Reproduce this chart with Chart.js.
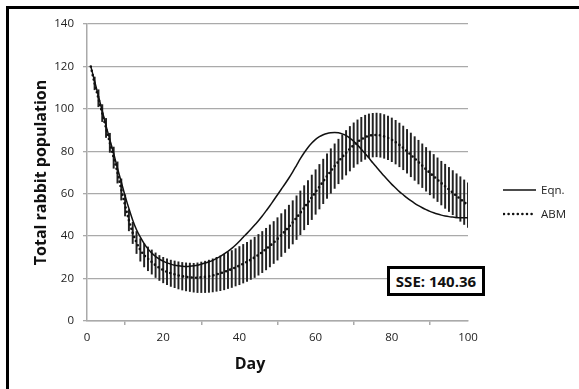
<!DOCTYPE html>
<html>
<head>
<meta charset="utf-8">
<script src="https://cdn.jsdelivr.net/npm/chart.js@4.4.1/dist/chart.umd.min.js"></script>
<style>
  html, body { margin: 0; padding: 0; background: #fff; overflow: hidden; }
  #wrap { position: relative; width: 579px; height: 389px; overflow: hidden; }
  #frame { position: absolute; left: 6px; top: 6px; width: 620px; height: 420px; border: 3px solid #000; box-sizing: border-box; pointer-events: none; }
  #c { position: absolute; left: 0; top: 0; }
  #sse { position: absolute; left: 387px; top: 266px; width: 98px; height: 30px; box-sizing: border-box; border: 3px solid #000; background: #fff;
         font: bold 15px "Open Sans", sans-serif; color: #111; text-align: center; line-height: 24px; }
  .leg { position: absolute; left: 503px; font: 11.5px "Open Sans", sans-serif; color: #222; display: flex; align-items: center; }
  .leg svg { margin-right: 5px; }
</style>
</head>
<body>
<div id="wrap">
  <canvas id="c" width="579" height="389"></canvas>
  <div id="frame"></div>
  <div id="sse">SSE: 140.36</div>
  <div class="leg" style="top:182px"><svg width="33" height="14"><line x1="0" y1="7" x2="33" y2="7" stroke="#111" stroke-width="1.5"/></svg>Eqn.</div>
  <div class="leg" style="top:206px"><svg width="33" height="14"><line x1="1" y1="7" x2="33" y2="7" stroke="#111" stroke-width="2.6" stroke-dasharray="0 4.6" stroke-linecap="round"/></svg>ABM</div>
</div>
<script>
const days = Array.from({length: 100}, (_, i) => i + 1);

const eqn = [
  120, 113, 106, 99, 92, 85.5, 79, 72, 65.5, 59,
  53, 47.5, 43, 39.5, 36.5, 34, 32, 30.4, 29.2, 28.2,
  27.4, 26.8, 26.3, 26, 25.8, 25.7, 25.8, 26, 26.3, 26.8,
  27.3, 27.9, 28.6, 29.5, 30.5, 31.6, 32.8, 34.2, 35.8, 37.6,
  39.5, 41.3, 43.2, 45.2, 47.3, 49.5, 51.9, 54.3, 56.9, 59.5,
  62.1, 64.7, 67.4, 70.3, 73.4, 76.5, 79.3, 81.8, 83.9, 85.6,
  86.9, 87.8, 88.4, 88.7, 88.8, 88.7, 88.2, 87.4, 86.2, 84.7,
  82.9, 81, 78.9, 76.8, 74.6, 72.5, 70.4, 68.3, 66.3, 64.4,
  62.7, 61, 59.5, 58, 56.7, 55.5, 54.4, 53.4, 52.5, 51.7,
  51, 50.4, 49.9, 49.5, 49.2, 49, 48.8, 48.7, 48.7, 48.7
];

const abm = [
  120, 112, 105, 98, 91, 84, 77, 70, 62, 54.5,
  47.5, 41.5, 37, 33.5, 31, 29.3, 27.8, 26.3, 25, 24,
  23.2, 22.5, 22, 21.5, 21.1, 20.8, 20.6, 20.4, 20.4, 20.6,
  20.8, 21.1, 21.5, 22, 22.5, 23.1, 23.8, 24.5, 25.3, 26.1,
  27, 27.9, 28.9, 30, 31.2, 32.5, 33.9, 35.4, 37, 38.7,
  40.5, 42.4, 44.4, 46.5, 48.7, 51, 53.4, 55.8, 58.3, 60.8,
  63.3, 65.8, 68.3, 70.7, 73, 75.2, 77.3, 79.3, 81.2, 82.9,
  84.4, 85.6, 86.6, 87.3, 87.6, 87.7, 87.5, 87, 86.3, 85.4,
  84.3, 83, 81.6, 80, 78.3, 76.6, 74.9, 73.2, 71.5, 69.8,
  68.2, 66.6, 65, 63.5, 62, 60.5, 59, 57.5, 56, 54.6
];

const abmSd = [
  0, 3, 4, 4, 4.5, 4.5, 5, 5, 5, 5,
  5, 5, 5.2, 5.3, 5.5, 5.6, 5.7, 5.8, 5.9, 6,
  6.1, 6.2, 6.3, 6.4, 6.5, 6.6, 6.7, 6.8, 7, 7.2,
  7.4, 7.6, 7.8, 8, 8.2, 8.4, 8.5, 8.7, 8.8, 9,
  9.1, 9.2, 9.3, 9.5, 9.6, 9.7, 9.8, 9.9, 9.9, 10,
  10.1, 10.1, 10.2, 10.2, 10.3, 10.3, 10.4, 10.4, 10.5, 10.5,
  10.5, 10.5, 10.5, 10.5, 10.5, 10.5, 10.5, 10.5, 10.5, 10.5,
  10.4, 10.4, 10.4, 10.3, 10.3, 10.3, 10.3, 10.3, 10.3, 10.3,
  10.3, 10.3, 10.3, 10.3, 10.3, 10.3, 10.3, 10.3, 10.3, 10.3,
  10.3, 10.3, 10.3, 10.4, 10.4, 10.4, 10.4, 10.5, 10.5, 10.5
];

const yTicks = [0, 20, 40, 60, 80, 100, 120, 140];
const xTicks = [0, 20, 40, 60, 80, 100];
const yTitle = 'Total rabbit population';
const xTitle = 'Day';

const titlesPlugin = {
  id: 'titles',
  afterDraw(chart) {
    const ctx = chart.ctx, a = chart.chartArea;
    ctx.save();
    ctx.fillStyle = '#111';
    ctx.textAlign = 'center';
    ctx.textBaseline = 'middle';
    ctx.font = 'bold 16px "Open Sans", sans-serif';
    ctx.fillText(xTitle, a.left + a.width * 0.428, 364);
    ctx.translate(41, (a.top + a.bottom) / 2);
    ctx.rotate(-Math.PI / 2);
    ctx.fillText(yTitle, 0, 0);
    ctx.restore();
  }
};

new Chart(document.getElementById('c'), {
  type: 'line',
  data: {
    datasets: [
      {
        label: 'Eqn.',
        data: days.map((d, i) => ({x: d, y: eqn[i]})),
        borderColor: '#111', borderWidth: 1.5, pointRadius: 0, cubicInterpolationMode: 'monotone', order: 1
      },
      {
        label: 'ABM',
        data: days.map((d, i) => ({x: d, y: abm[i]})),
        borderColor: '#111', borderWidth: 2.6, borderDash: [0, 4.4], borderCapStyle: 'round',
        pointRadius: 0, cubicInterpolationMode: 'monotone', order: 2
      },
      {
        type: 'bar',
        label: 'err',
        data: days.map((d, i) => ({x: d, y: [abm[i] - abmSd[i], abm[i] + abmSd[i]]})),
        backgroundColor: '#222', barThickness: 1.3, borderWidth: 0, order: 3
      }
    ]
  },
  options: {
    responsive: false,
    animation: false,
    layout: { padding: { left: 0, right: 111, top: 24, bottom: 0 } },
    plugins: { legend: { display: false }, tooltip: { enabled: false } },
    scales: {
      x: {
        type: 'linear', min: 0, max: 100, offset: false,
        afterBuildTicks: s => { s.ticks = xTicks.map(v => ({value: v})); },
        afterFit: s => { s.height = 68; },
        grid: { display: true, drawOnChartArea: false, drawTicks: true, tickLength: 4, color: '#aaa', lineWidth: 1.5 },
        border: { color: '#aaa', width: 1.5 },
        ticks: { color: '#222', font: { family: '"Open Sans", sans-serif', size: 11.5 }, padding: 6, maxRotation: 0 }
      },
      y: {
        type: 'linear', min: 0, max: 140,
        afterBuildTicks: s => { s.ticks = yTicks.map(v => ({value: v})); },
        afterFit: s => { s.width = 87; },
        grid: { color: '#aaa', lineWidth: 1.3, tickLength: 4 },
        border: { color: '#aaa', width: 1.5 },
        ticks: { color: '#222', font: { family: '"Open Sans", sans-serif', size: 11.5 }, padding: 9 }
      }
    }
  },
  plugins: [titlesPlugin]
});
</script>
</body>
</html>
